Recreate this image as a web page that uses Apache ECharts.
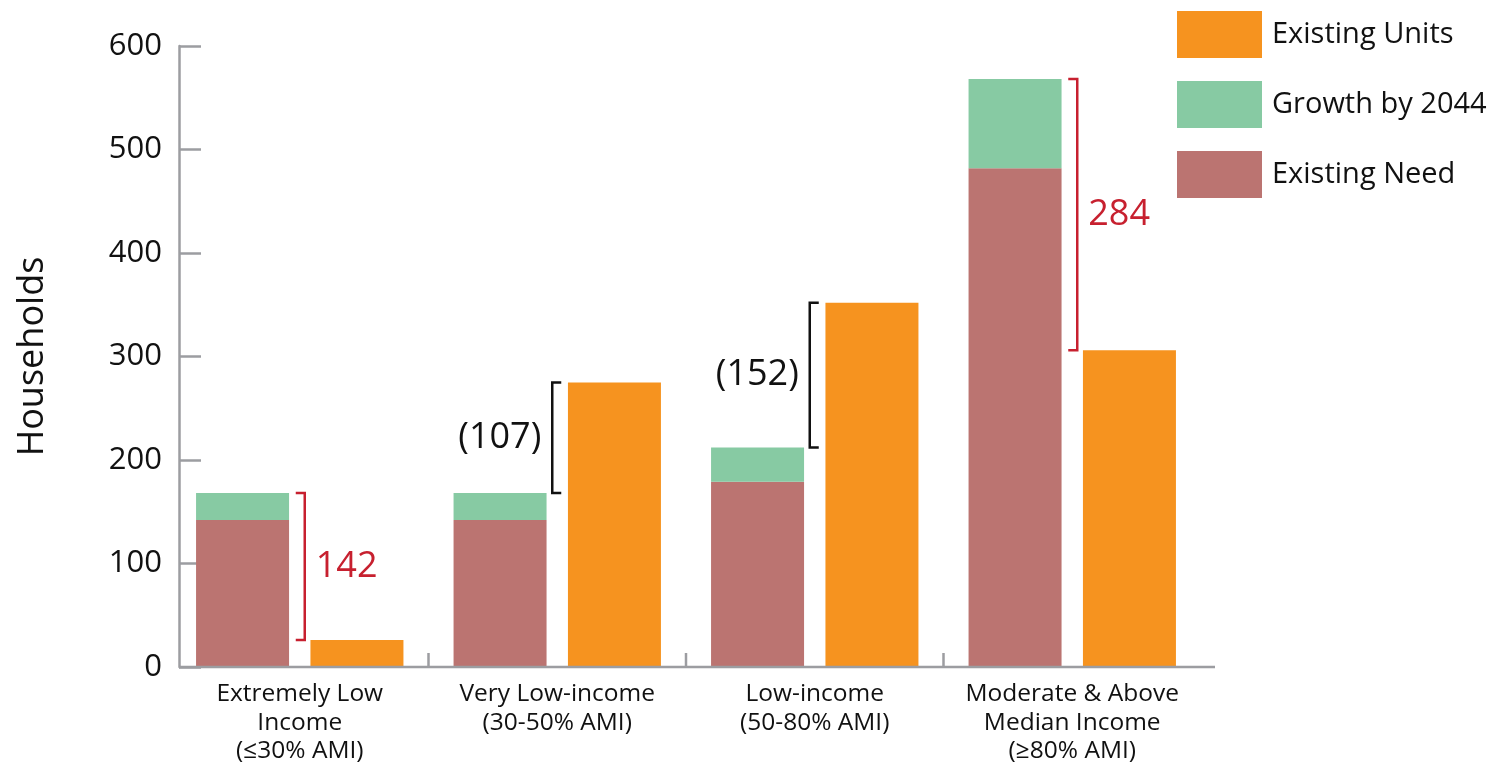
<!DOCTYPE html>
<html><head><meta charset="utf-8">
<script src="https://cdn.jsdelivr.net/npm/echarts@6/dist/echarts.min.js"></script>
<style>html,body{margin:0;padding:0;background:#fff}#c{width:1489px;height:764px}</style>
</head><body><div id="c"></div>
<script>
const categories = ['Extremely Low\nIncome\n(≤30% AMI)', 'Very Low-income\n(30-50% AMI)', 'Low-income\n(50-80% AMI)', 'Moderate & Above\nMedian Income\n(≥80% AMI)'];
const existingNeed = [142, 142, 179, 482];
const growthBy2044 = [26, 26, 33, 86];
const existingUnits = [26, 275, 352, 306];
const gapLabels = ['142', '(107)', '(152)', '284'];
const yTickValues = [0, 100, 200, 300, 400, 500, 600];

const ORANGE = '#F6931F', GREEN = '#87CAA3', BROWN = '#BB7471', RED = '#C7202F', AXIS = '#9C9DA1';
const FONT = '"Open Sans", "Noto Sans", sans-serif';

const bracketData = categories.map((c, i) => [i, existingNeed[i] + growthBy2044[i], existingUnits[i]]);

const chart = echarts.init(document.getElementById('c'), null, {renderer: 'canvas'});
chart.setOption({
  animation: false,
  textStyle: {fontFamily: FONT},
  grid: {left: 171, width: 1030, top: 46, bottom: 97, containLabel: false, outerBoundsMode: 'none'},
  legend: {
    data: ['Existing Units', 'Growth by 2044', 'Existing Need'],
    orient: 'vertical', left: 1177, top: 11, padding: 0,
    itemWidth: 85, itemHeight: 47, itemGap: 23, icon: 'rect',
    selectedMode: false,
    textStyle: {fontSize: 29, color: '#111', fontFamily: FONT, padding: [0, 0, 0, 5]}
  },
  xAxis: {
    type: 'category', data: categories,
    axisLine: {show: false}, axisTick: {show: false},
    axisLabel: {fontSize: 24.5, lineHeight: 28.5, color: '#111', margin: 13, interval: 0, fontFamily: FONT}
  },
  yAxis: {
    type: 'value', min: 0, max: 600, interval: 100, offset: -8,
    name: 'Households', nameLocation: 'middle', nameGap: 128,
    nameTextStyle: {fontSize: 36, color: '#111', fontFamily: FONT},
    axisLine: {show: true, lineStyle: {color: AXIS, width: 2.5}},
    axisTick: {show: true, inside: true, length: 22, lineStyle: {color: AXIS, width: 2.5}},
    axisLabel: {fontSize: 31, color: '#111', margin: 17, fontFamily: FONT,
      formatter: v => yTickValues.includes(v) ? String(v) : ''},
    splitLine: {show: false}
  },
  series: [
    {name: 'Existing Need', type: 'bar', stack: 'need', data: existingNeed, barWidth: 93, barGap: '23%', itemStyle: {color: BROWN}},
    {name: 'Growth by 2044', type: 'bar', stack: 'need', data: growthBy2044, barWidth: 93, barGap: '23%', itemStyle: {color: GREEN}},
    {name: 'Existing Units', type: 'bar', data: existingUnits, barWidth: 93, barGap: '23%', itemStyle: {color: ORANGE}},
    {
      type: 'custom', data: bracketData, silent: true, z: 10,
      renderItem(params, api) {
        const i = api.value(0), top = api.value(1), bot = api.value(2);
        const c = api.coord([i, 0])[0];
        const yA = api.coord([i, top])[1], yB = api.coord([i, bot])[1];
        const dir = top > bot ? 1 : -1;
        const x = c + 5 * dir, xs = x - 9 * dir;
        const color = dir > 0 ? RED : '#111';
        return {type: 'group', children: [
          {type: 'polyline', shape: {points: [[xs, yA], [x, yA], [x, yB], [xs, yB]]}, style: {stroke: color, lineWidth: 2.5, fill: null}},
          {type: 'text', style: {text: gapLabels[params.dataIndex], x: x + 11 * dir, y: (yA + yB) / 2,
            align: dir > 0 ? 'left' : 'right', verticalAlign: 'middle', fill: color, font: '36px ' + FONT}}
        ]};
      }
    }
  ]
});

// x axis baseline and category separators (decoration derived from the axes)
const y0 = chart.convertToPixel({yAxisIndex: 0}, 0);
const centers = categories.map((c, i) => chart.convertToPixel({xAxisIndex: 0}, i));
const xStart = 179, xEnd = 1215;
const seps = [];
for (let i = 0; i < centers.length - 1; i++) {
  const xb = (centers[i] + centers[i + 1]) / 2;
  seps.push({type: 'line', shape: {x1: xb, y1: y0 - 14, x2: xb, y2: y0}, style: {stroke: AXIS, lineWidth: 2.5}, z: 5});
}
chart.setOption({graphic: [
  {type: 'line', shape: {x1: xStart, y1: y0, x2: xEnd, y2: y0}, style: {stroke: AXIS, lineWidth: 2.5}, z: 5},
  ...seps
]});
</script></body></html>
